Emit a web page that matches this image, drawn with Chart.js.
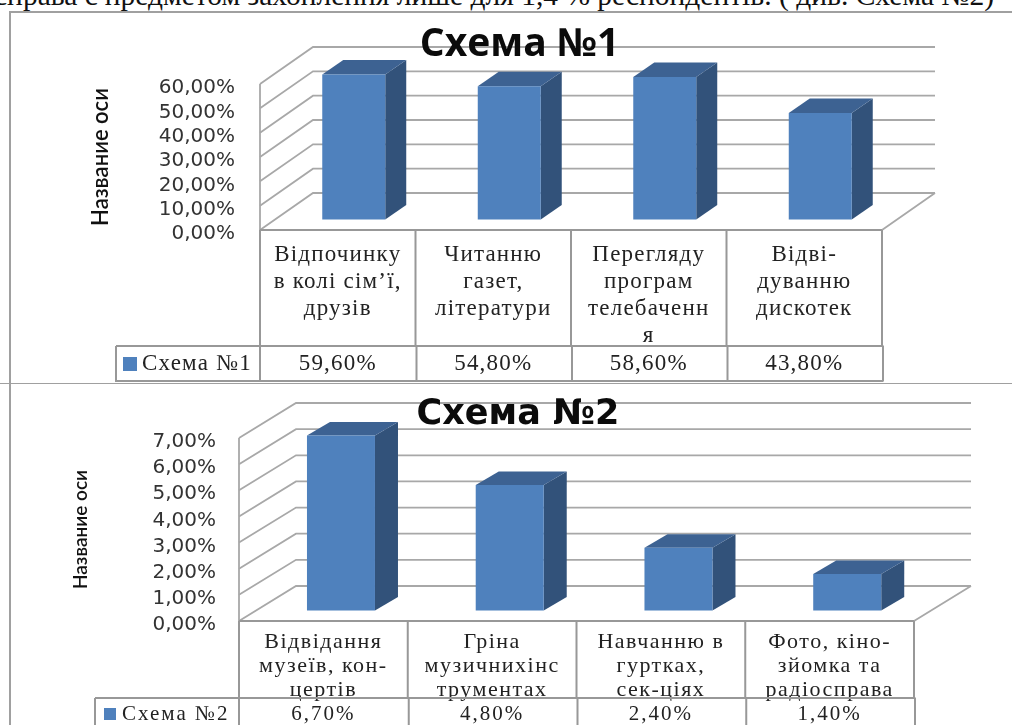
<!DOCTYPE html>
<html><head><meta charset="utf-8">
<script src="https://cdn.jsdelivr.net/npm/chart.js@4"></script>
<style>
html,body{margin:0;padding:0;background:#fff;width:1012px;height:725px;overflow:hidden}
#page{position:relative;width:1012px;height:725px;overflow:hidden}
#topline{position:absolute;left:-6px;top:-21px;width:1100px;white-space:nowrap;font:29.5px "Liberation Serif",serif;color:#111}
.wrap{position:absolute;left:0;width:1012px}
canvas{display:block}
.frame{position:absolute;background:#a0a0a0}
</style></head><body>
<div id="page">
<div id="topline">справа є предметом захоплення лише для 1,4 % респондентів. ( див. Схема №2)</div>
<div class="wrap" style="top:0;height:383px"><canvas id="c1" width="1012" height="383"></canvas></div>
<div class="wrap" style="top:383px;height:342px"><canvas id="c2" width="1012" height="342"></canvas></div>
<div class="frame" style="left:0;right:0;top:383px;height:1px"></div>
<div class="frame" style="left:9px;top:11px;width:2px;height:714px"></div>
<div class="frame" style="left:9px;right:0;top:11px;height:2px"></div>
</div>
<script>
const categories1 = [
  ["Відпочинку","в колі сім’ї,","друзів"],
  ["Читанню","газет,","літератури"],
  ["Перегляду","програм","телебаченн","я"],
  ["Відві-","дуванню","дискотек"]
];
const values1 = [59.6, 54.8, 58.6, 43.8];
const seriesName1 = "Схема №1";
const categories2 = [
  ["Відвідання","музеїв, кон-","цертів"],
  ["Гріна","музичнихінс","трументах"],
  ["Навчанню в","гуртках,","сек-ціях"],
  ["Фото, кіно-","зйомка та","радіосправа"]
];
const values2 = [6.7, 4.8, 2.4, 1.4];
const seriesName2 = "Схема №2";
const axisTitle = "Название оси";
const GRID = "#a8a8a8", TABLE = "#989898", FRONT = "#4f81bd", SIDE = "#32527a", TOP = "#3d6292", TEXT = "#222";

function make(id, cfg) {
  const plugin3d = {
    id: "box3d",
    afterLayout(chart) {
      if (chart.titleBlock) { chart.titleBlock.left += cfg.titleShift; chart.titleBlock.right += cfg.titleShift; }
      const s = chart.scales.x, orig = s.drawLabels;
      if (!s._spaced) {
        s._spaced = true;
        s.drawLabels = function (area) {
          chart.ctx.letterSpacing = cfg.xSpace + "px";
          orig.call(this, area);
          chart.ctx.letterSpacing = "0px";
        };
      }
      const ys = chart.scales.y, origY = ys.drawLabels;
      if (!ys._nudged) {
        ys._nudged = true;
        ys.drawLabels = function (area) {
          chart.ctx.save();
          chart.ctx.translate(0, cfg.yNudge);
          origY.call(this, area);
          chart.ctx.restore();
        };
      }
    },
    beforeDraw(chart) {
      const {ctx, chartArea: a, scales: {y}} = chart;
      ctx.save();
      ctx.strokeStyle = GRID; ctx.lineWidth = 1.8; ctx.lineJoin = "miter";
      y.ticks.forEach(t => {
        const py = y.getPixelForValue(t.value);
        ctx.beginPath();
        ctx.moveTo(a.left, py);
        ctx.lineTo(a.left + cfg.wallX, py - cfg.wallY);
        ctx.lineTo(a.right + cfg.wallX, py - cfg.wallY);
        ctx.stroke();
      });
      ctx.beginPath();
      ctx.moveTo(a.left, a.top); ctx.lineTo(a.left, a.bottom);
      ctx.moveTo(a.right + cfg.wallX, a.bottom - cfg.wallY); ctx.lineTo(a.right, a.bottom);
      ctx.stroke();
      ctx.restore();
    },
    beforeDatasetDraw(chart) {
      const ctx = chart.ctx;
      ctx.save();
      ctx.translate(cfg.barX, -cfg.barY);
      chart.getDatasetMeta(0).data.forEach(b => {
        const p = b.getProps(["x","y","base","width"], true);
        const l = p.x - p.width/2, r = p.x + p.width/2;
        ctx.fillStyle = SIDE;
        ctx.beginPath();
        ctx.moveTo(r, p.y); ctx.lineTo(r + cfg.depthX, p.y - cfg.depthY);
        ctx.lineTo(r + cfg.depthX, p.base - cfg.depthY); ctx.lineTo(r, p.base); ctx.closePath(); ctx.fill();
        ctx.fillStyle = TOP;
        ctx.beginPath();
        ctx.moveTo(l, p.y); ctx.lineTo(l + cfg.depthX, p.y - cfg.depthY);
        ctx.lineTo(r + cfg.depthX, p.y - cfg.depthY); ctx.lineTo(r, p.y); ctx.closePath(); ctx.fill();
      });
    },
    afterDatasetDraw(chart) { chart.ctx.restore(); },
    afterDraw(chart) {
      const {ctx, chartArea: a, scales: {x}} = chart;
      const data = chart.data.datasets[0].data, n = data.length;
      const w = (a.right - a.left) / n;
      ctx.save();
      ctx.strokeStyle = TABLE; ctx.lineWidth = 2;
      ctx.beginPath();
      ctx.moveTo(a.left, a.bottom); ctx.lineTo(a.right, a.bottom);
      for (let i = 0; i <= n; i++) {
        const vx = a.left + w*i;
        ctx.moveTo(vx, a.bottom); ctx.lineTo(vx, cfg.rowTop);
      }
      ctx.moveTo(cfg.rowLeft, cfg.rowTop); ctx.lineTo(a.right + 1.5, cfg.rowTop);
      ctx.moveTo(cfg.rowLeft, cfg.rowTop); ctx.lineTo(cfg.rowLeft, cfg.rowBottom);
      ctx.lineTo(a.right + 1.5, cfg.rowBottom);
      for (let i = 0; i <= n; i++) {
        const vx = a.left + w*i + (i ? 1 : 0);
        ctx.moveTo(vx, cfg.rowTop); ctx.lineTo(vx, cfg.rowBottom);
      }
      ctx.stroke();
      ctx.fillStyle = FRONT;
      ctx.fillRect(cfg.swatchX, cfg.swatchY, cfg.swatchS, cfg.swatchS);
      ctx.fillStyle = TEXT;
      ctx.textBaseline = "middle";
      ctx.textAlign = "left";
      ctx.font = cfg.rowFont;
      ctx.letterSpacing = cfg.rowSpace + "px";
      ctx.fillText(cfg.name, cfg.nameX, cfg.rowText);
      ctx.textAlign = "center";
      data.forEach((v, i) => {
        ctx.fillText(v.toFixed(2).replace(".", ",") + "%", x.getPixelForValue(i), cfg.rowText);
      });
      ctx.letterSpacing = "0px";
      ctx.restore();
    }
  };
  return new Chart(document.getElementById(id), {
    type: "bar",
    plugins: [plugin3d],
    data: {
      labels: cfg.labels,
      datasets: [{
        label: cfg.name, data: cfg.values, backgroundColor: FRONT,
        borderWidth: 0, barPercentage: cfg.barPct, categoryPercentage: 1, clip: false
      }]
    },
    options: {
      responsive: false, animation: false,
      layout: {padding: {left: 0, right: cfg.padRight, top: 0, bottom: 0}},
      plugins: {
        legend: {display: false}, tooltip: {enabled: false},
        title: {
          display: true, text: cfg.name, color: "#0b0b0b",
          font: {family: cfg.titleFamily, weight: "bold", size: cfg.titleSize, lineHeight: 1},
          padding: {top: cfg.titleTop, bottom: cfg.top - cfg.titleTop - cfg.titleSize}
        }
      },
      scales: {
        x: {
          grid: {display: false}, border: {display: false},
          afterFit: s => { s.height = cfg.xHeight; },
          ticks: {
            maxRotation: 0, autoSkip: false, color: TEXT, padding: cfg.xPad,
            font: {family: "'Liberation Serif'", size: cfg.xFont, lineHeight: cfg.xLine / cfg.xFont}
          }
        },
        y: {
          min: 0, max: cfg.max,
          grid: {display: false}, border: {display: false},
          afterFit: s => { s.width = cfg.yWidth; },
          title: {
            display: true, text: axisTitle, color: "#111",
            font: {family: "Lato,'Open Sans'", weight: "600", size: cfg.axisSize, lineHeight: 1},
            padding: {top: cfg.axisPad, bottom: 0}
          },
          ticks: {
            stepSize: cfg.step, autoSkip: false, color: "#333", padding: cfg.yPad,
            font: {family: "'DejaVu Sans'", size: cfg.yFont},
            callback: v => v.toFixed(2).replace(".", ",") + "%"
          }
        }
      }
    }
  });
}

make("c1", {
  labels: categories1, values: values1, name: seriesName1, max: 60, step: 10,
  top: 84, xHeight: 153, yWidth: 260, padRight: 130, barPct: 0.405,
  wallX: 53, wallY: 37, barX: 16, barY: 10.5, depthX: 21, depthY: 14.5,
  titleShift: 78.5, titleTop: 25, titleSize: 39, titleFamily: "'Open Sans'",
  xPad: 3, xFont: 23, xLine: 27, xSpace: 1.2, yPad: 17, yFont: 20, yNudge: 4, axisSize: 22, axisPad: 90,
  rowTop: 346, rowBottom: 381, rowLeft: 116, swatchX: 123, swatchY: 357, swatchS: 14,
  nameX: 142, rowText: 364, rowFont: "23px 'Liberation Serif'", rowSpace: 1.2
});
make("c2", {
  labels: categories2, values: values2, name: seriesName2, max: 7, step: 1,
  top: 55, xHeight: 104, yWidth: 239, padRight: 98, barPct: 0.403,
  wallX: 57, wallY: 35, barX: 17.6, barY: 10.4, depthX: 23, depthY: 13.5,
  titleShift: 61, titleTop: 14, titleSize: 35, titleFamily: "'DejaVu Sans'",
  xPad: 1, xFont: 22, xLine: 24, xSpace: 1.5, yPad: 15, yFont: 20, yNudge: 4, axisSize: 19, axisPad: 71.5,
  rowTop: 315, rowBottom: 345, rowLeft: 95, swatchX: 104, swatchY: 325, swatchS: 12,
  nameX: 122, rowText: 331, rowFont: "21px 'Liberation Serif'", rowSpace: 2
});
</script>
</body></html>
